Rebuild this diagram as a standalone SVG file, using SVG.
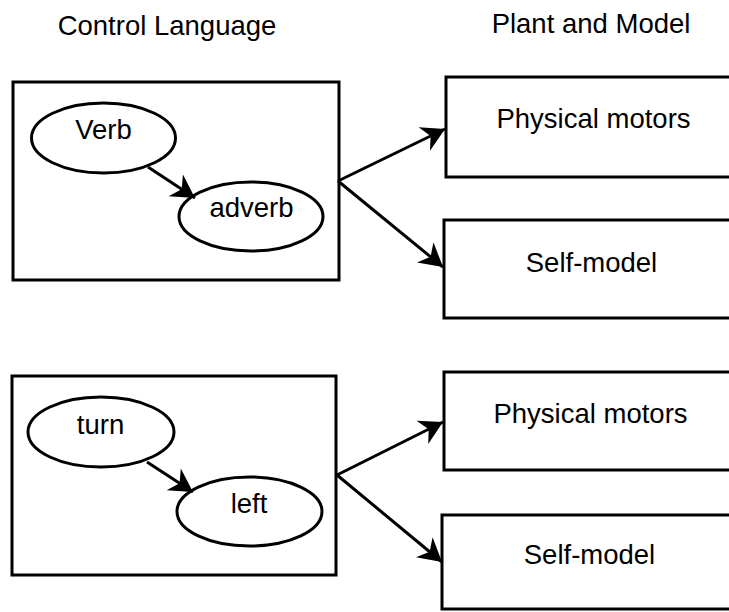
<svg xmlns="http://www.w3.org/2000/svg" width="729" height="612" viewBox="0 0 729 612">
<style>
  .box { fill: #fff; stroke: #000; stroke-width: 3; }
  .ell { fill: #fff; stroke: #000; stroke-width: 3; }
  .lbl { font-family: "Liberation Sans", Arial, Helvetica, sans-serif; font-size: 27.5px; fill: #000; text-anchor: middle; }
  .edge { fill: none; stroke: #000; stroke-width: 3; marker-end: url(#ah); }
</style>
<defs>
  <marker id="ah" markerWidth="28" markerHeight="28" viewBox="-24 -14 26 28" refX="0" refY="0" orient="auto" markerUnits="userSpaceOnUse">
    <path d="M0,0 L-23,-13 L-16,0 L-23,13 Z" fill="#000"/>
  </marker>
</defs>
<rect width="729" height="612" fill="#fff"/>
<g id="headers">
  <text class="lbl" x="167" y="35">Control Language</text>
  <text class="lbl" x="591" y="33">Plant and Model</text>
</g>
<g id="control-top">
  <rect class="box" x="13" y="82" width="326" height="198"/>
</g>
<g id="verb">
  <ellipse class="ell" cx="103.5" cy="138" rx="72" ry="35"/>
  <text class="lbl" x="103.5" y="139">Verb</text>
</g>
<g id="adverb">
  <ellipse class="ell" cx="251" cy="216.5" rx="72" ry="34.5"/>
  <text class="lbl" x="251.5" y="217">adverb</text>
</g>
<g id="motors-top">
  <rect class="box" x="446" y="77" width="295" height="100"/>
  <text class="lbl" x="593.5" y="128">Physical motors</text>
</g>
<g id="selfmodel-top">
  <rect class="box" x="444" y="220" width="297" height="98"/>
  <text class="lbl" x="591.5" y="272">Self-model</text>
</g>
<g id="control-bottom">
  <rect class="box" x="12" y="376" width="324" height="199"/>
</g>
<g id="turn">
  <ellipse class="ell" cx="101" cy="432" rx="73" ry="35"/>
  <text class="lbl" x="100.5" y="434">turn</text>
</g>
<g id="left">
  <ellipse class="ell" cx="249.5" cy="511.5" rx="72.5" ry="34.5"/>
  <text class="lbl" x="249" y="513">left</text>
</g>
<g id="motors-bottom">
  <rect class="box" x="444" y="372" width="297" height="98"/>
  <text class="lbl" x="590.5" y="423">Physical motors</text>
</g>
<g id="selfmodel-bottom">
  <rect class="box" x="442" y="515" width="299" height="94"/>
  <text class="lbl" x="589.5" y="564">Self-model</text>
</g>
<g id="connectors">
  <line class="edge" x1="148" y1="167" x2="195" y2="198"/>
  <line class="edge" x1="338" y1="181" x2="445" y2="129"/>
  <line class="edge" x1="338" y1="181" x2="443" y2="267"/>
  <line class="edge" x1="147" y1="462" x2="193" y2="492"/>
  <line class="edge" x1="337" y1="475" x2="443" y2="422"/>
  <line class="edge" x1="337" y1="475" x2="442" y2="562"/>
</g>
</svg>
